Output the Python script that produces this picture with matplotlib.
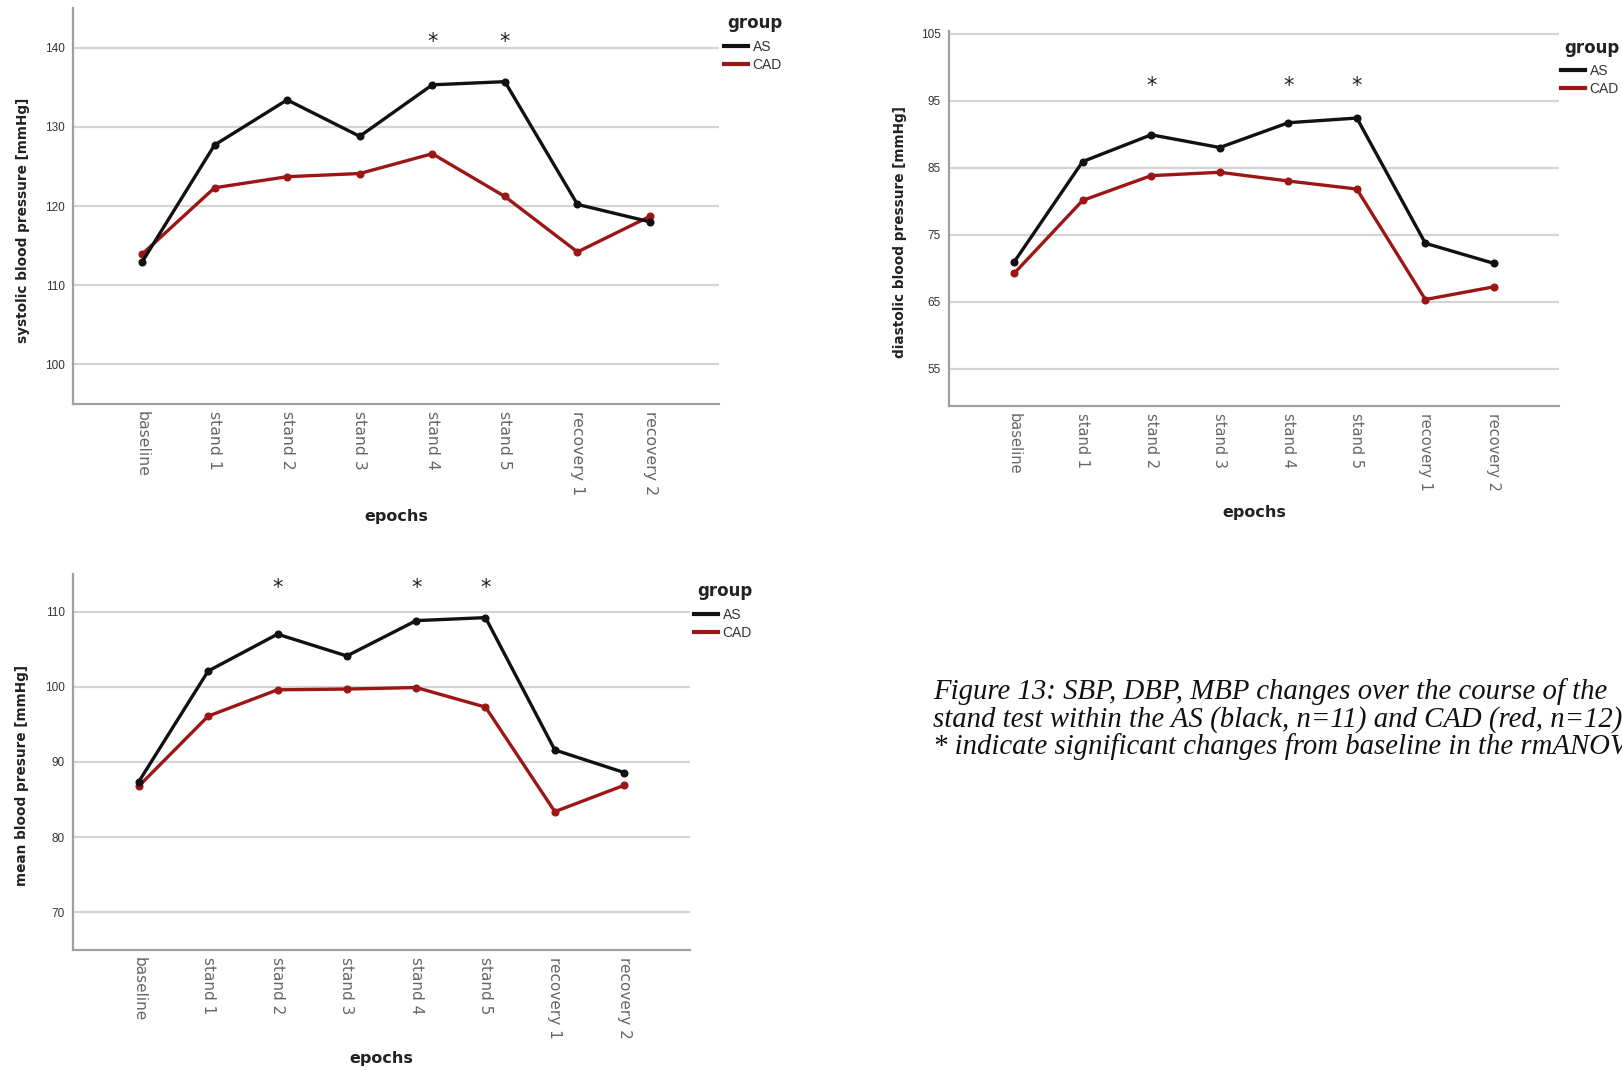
import matplotlib
matplotlib.use("Agg")
import matplotlib.pyplot as plt
from matplotlib.lines import Line2D

# Epochs of the stand test
epochs = ["baseline", "stand 1", "stand 2", "stand 3", "stand 4", "stand 5",
          "recovery 1", "recovery 2"]

# Systolic blood pressure [mmHg]
sbp_as = [112.9, 127.7, 133.4, 128.8, 135.3, 135.7, 120.2, 118.0]
sbp_cad = [113.9, 122.3, 123.7, 124.1, 126.6, 121.2, 114.2, 118.7]
sbp_ticks = [100, 110, 120, 130, 140]
sbp_sig = ["stand 4", "stand 5"]

# Diastolic blood pressure [mmHg]
dbp_as = [70.9, 85.9, 89.9, 88.0, 91.7, 92.4, 73.7, 70.7]
dbp_cad = [69.2, 80.1, 83.8, 84.3, 83.0, 81.8, 65.3, 67.2]
dbp_ticks = [55, 65, 75, 85, 95, 105]
dbp_sig = ["stand 2", "stand 4", "stand 5"]

# Mean blood pressure [mmHg]
mbp_as = [87.4, 102.1, 107.0, 104.1, 108.8, 109.2, 91.6, 88.6]
mbp_cad = [86.8, 96.1, 99.6, 99.7, 99.9, 97.3, 83.4, 86.9]
mbp_ticks = [70, 80, 90, 100, 110]
mbp_sig = ["stand 2", "stand 4", "stand 5"]

groups = ["AS", "CAD"]
caption = ("Figure 13: SBP, DBP, MBP changes over the course of the\n"
           "stand test within the AS (black, n=11) and CAD (red, n=12).\n"
           "* indicate significant changes from baseline in the rmANOVA.")

AS_COLOR = "#111111"
CAD_COLOR = "#9c1616"
GRID = "#d4d4d4"
SPINE = "#a0a0a0"
NARROW = ["Liberation Sans Narrow", "Liberation Sans", "DejaVu Sans"]

W, H = 1622, 1070
fig = plt.figure(figsize=(W / 100, H / 100), dpi=100)
fig.patch.set_facecolor("white")


def px_axes(left, top, right, bottom):
    return fig.add_axes([left / W, 1 - bottom / H, (right - left) / W, (bottom - top) / H])


def panel(ax, as_vals, cad_vals, ylim, ticks, ylabel, sig, star_y,
          ylabel_x, xtick_size, xlabel_pad, leg_x, title_y, rows_y):
    x = list(range(len(epochs)))
    ax.set_xlim(-0.95, len(epochs) - 0.05)
    ax.set_ylim(*ylim)
    for t in ticks:
        ax.axhline(t, color=GRID, lw=1.6, zorder=0)
    ax.plot(x, as_vals, color=AS_COLOR, lw=2.4, marker="o", ms=4.8,
            solid_joinstyle="round", zorder=3)
    ax.plot(x, cad_vals, color=CAD_COLOR, lw=2.4, marker="o", ms=4.8,
            solid_joinstyle="round", zorder=2)
    for s in sig:
        ax.text(epochs.index(s), star_y, "*", ha="center", va="center",
                fontsize=15, color="#222222")
    ax.set_yticks(ticks)
    ax.set_yticklabels([str(t) for t in ticks], family=NARROW, fontsize=8.5,
                       color="#333333")
    ax.set_xticks(x)
    ax.set_xticklabels(epochs, rotation=-90, fontsize=xtick_size,
                       color="#666666", va="top", ha="center")
    ax.tick_params(axis="both", length=0)
    ax.tick_params(axis="y", pad=6)
    ax.tick_params(axis="x", pad=5)
    for side in ("top", "right"):
        ax.spines[side].set_visible(False)
    for side in ("left", "bottom"):
        ax.spines[side].set_color(SPINE)
        ax.spines[side].set_linewidth(1.6)
    ax.set_xlabel("epochs", fontsize=11.5, fontweight="bold", color="#222222",
                  labelpad=xlabel_pad)
    ax.set_ylabel(ylabel, fontsize=9.8, fontweight="bold", color="#222222")
    ax.yaxis.set_label_coords(ylabel_x, 0.463)

    # legend: bold title above two line entries
    fig.text((leg_x + 3) / W, 1 - title_y / H, "group", fontsize=12,
             fontweight="bold", color="#222222", ha="left", va="center")
    handles = [Line2D([], [], color=AS_COLOR, lw=3),
               Line2D([], [], color=CAD_COLOR, lw=3)]
    leg = ax.legend(handles, groups, loc="center left",
                    bbox_to_anchor=(leg_x / W, 1 - (rows_y[0] + rows_y[1]) / 2 / H),
                    bbox_transform=fig.transFigure, frameon=False,
                    handlelength=1.7, handletextpad=0.35, labelspacing=0.28,
                    borderaxespad=0, borderpad=0,
                    prop={"family": NARROW, "size": 10})
    for t in leg.get_texts():
        t.set_color("#333333")


ax1 = px_axes(73, 8, 719, 404)
panel(ax1, sbp_as, sbp_cad, (95, 145), sbp_ticks,
      "systolic blood pressure [mmHg]", sbp_sig, 140.7, -0.066,
      11.3, 10, 724, 23, (47.6, 65))

ax2 = px_axes(949, 31, 1559, 406)
panel(ax2, dbp_as, dbp_cad, (49.4, 105.4), dbp_ticks,
      "diastolic blood pressure [mmHg]", dbp_sig, 97.2, -0.069,
      10.5, 10, 1561, 47.6, (71.4, 89))

ax3 = px_axes(73, 574, 690, 950)
panel(ax3, mbp_as, mbp_cad, (65, 115), mbp_ticks,
      "mean blood presure [mmHg]", mbp_sig, 113.2, -0.071,
      11, 9, 694, 590.6, (615.5, 633))

fig.text(933 / W, 1 - 678 / H, caption, family=["Liberation Serif", "DejaVu Serif"],
         style="italic", fontsize=20.7, linespacing=1.035, ha="left", va="top",
         color="#111111")

fig.savefig("out.png", dpi=100, facecolor="white")
